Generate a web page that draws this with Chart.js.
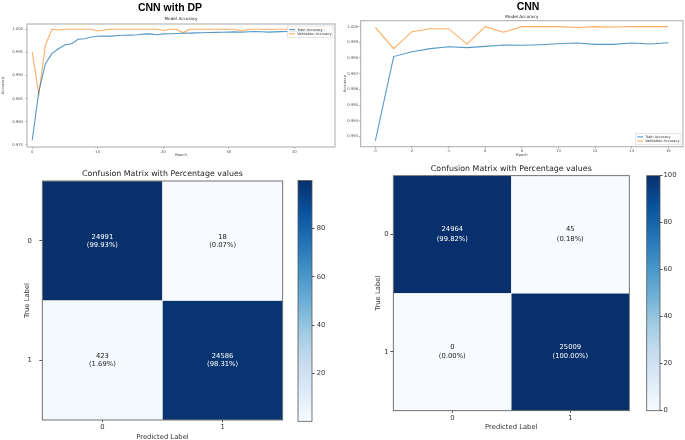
<!DOCTYPE html>
<html>
<head>
<meta charset="utf-8">
<script src="https://cdn.jsdelivr.net/npm/chart.js@4.4.1/dist/chart.umd.min.js"></script>
<style>
  html, body { margin: 0; padding: 0; background: #fff; overflow: hidden; }
  body { width: 685px; height: 440px; position: relative; }
  .box { position: absolute; }
  .head { position: absolute; z-index: 2; font: bold 10.5px "Liberation Sans", Arial, sans-serif;
          color: #000; text-align: center; line-height: 12px; white-space: nowrap; }
</style>
</head>
<body>
<div class="box" style="left:0;top:0;width:340px;height:160px"><canvas id="acc-dp"></canvas></div>
<div class="box" style="left:340px;top:0;width:345px;height:160px"><canvas id="acc-cnn"></canvas></div>
<div class="box" style="left:0;top:160px;width:340px;height:281px"><canvas id="cm-dp"></canvas></div>
<div class="box" style="left:340px;top:160px;width:345px;height:280px"><canvas id="cm-cnn"></canvas></div>
<div class="box" style="left:290px;top:170px;width:45px;height:260px"><canvas id="cb-dp"></canvas></div>
<div class="box" style="left:638px;top:165px;width:47px;height:255px"><canvas id="cb-cnn"></canvas></div>
<div class="head" style="left:0;top:1px;width:340px">CNN with DP</div>
<div class="head" style="left:428px;top:0;width:200px">CNN</div>

<script>
// accuracy curves
var DP_EPOCHS = [0,1,2,3,4,5,6,7,8,9,10,11,12,13,14,15,16,17,18,19,20,21,22,23,24,25,26,27,28,29,30,31,32,33,34,35,36,37,38,39,40,41,42,43,44,45];
var DP_TRAIN = [0.97597,0.98650,0.99255,0.99472,0.99580,0.99667,0.99688,0.99784,0.99797,0.99833,
                0.99848,0.99855,0.99852,0.99866,0.99870,0.99875,0.99882,0.99895,0.99900,0.99882,
                0.99900,0.99905,0.99910,0.99915,0.99918,0.99922,0.99926,0.99930,0.99933,0.99936,
                0.99940,0.99944,0.99935,0.99946,0.99950,0.99946,0.99940,0.99945,0.99950,0.99952,
                0.99955,0.99955,0.99957,0.99958,0.99960,0.99961];
var DP_VAL = [0.99509,0.98585,0.99654,1.00000,0.99985,1.00000,1.00000,1.00000,1.00000,1.00000,
              0.99965,0.99985,1.00000,1.00000,1.00000,1.00000,1.00000,1.00000,1.00000,1.00000,
              0.99975,1.00000,1.00000,0.99925,1.00000,1.00000,1.00000,1.00000,1.00000,1.00000,
              1.00000,1.00000,0.99960,1.00000,1.00000,1.00000,1.00000,1.00000,1.00000,1.00000,
              1.00000,0.99990,1.00000,1.00000,1.00000,1.00000];
var DP_XTICKS = [0, 10, 20, 30, 40];
var DP_YTICKS = [0.975, 0.980, 0.985, 0.990, 0.995, 1.000];

var CNN_EPOCHS = [0,1,2,3,4,5,6,7,8,9,10,11,12,13,14,15,16];
var CNN_TRAIN = [0.99272,0.99809,0.99840,0.99860,0.99872,0.99866,0.99874,0.99883,0.99881,
                 0.99885,0.99891,0.99896,0.99887,0.99887,0.99896,0.99889,0.99897];
var CNN_VAL = [0.99996,0.99860,0.99968,0.99987,0.99987,0.99889,1.00000,0.99964,1.00000,
               1.00000,1.00000,0.99995,1.00000,0.99998,1.00000,1.00000,1.00000];
var CNN_XTICKS = [0, 2, 4, 6, 8, 10, 12, 14, 16];
var CNN_YTICKS = [0.993, 0.994, 0.995, 0.996, 0.997, 0.998, 0.999, 1.000];

// confusion matrices (rows = true label, cols = predicted label)
var TRUE_LABELS = ['0', '1'];
var PRED_LABELS = ['0', '1'];
var DP_COUNTS = [[24991, 18], [423, 24586]];
var DP_PCT = [[99.93, 0.07], [1.69, 98.31]];
var CNN_COUNTS = [[24964, 45], [0, 25009]];
var CNN_PCT = [[99.82, 0.18], [0.00, 100.00]];
var DP_CB_TICKS = [20, 40, 60, 80];
var CNN_CB_TICKS = [0, 20, 40, 60, 80, 100];

var BLUES = ['#f7fbff','#deebf7','#c6dbef','#9ecae1','#6baed6','#4292c6','#2171b5','#08519c','#08306b'];
var TRAIN_COLOR = 'rgba(31,119,180,0.75)';
var VAL_COLOR = 'rgba(255,127,14,0.65)';
var FONT = '"DejaVu Sans", Verdana, sans-serif';

Chart.defaults.font.family = FONT;
Chart.defaults.animation = false;

function hexRgb(h) {
  return [parseInt(h.substr(1,2),16), parseInt(h.substr(3,2),16), parseInt(h.substr(5,2),16)];
}
function blues(t) {
  t = Math.max(0, Math.min(1, t));
  var s = t * (BLUES.length - 1);
  var i = Math.min(Math.floor(s), BLUES.length - 2);
  var f = s - i, a = hexRgb(BLUES[i]), b = hexRgb(BLUES[i+1]);
  return 'rgb(' + [0,1,2].map(function(k){ return Math.round(a[k] + (b[k]-a[k])*f); }).join(',') + ')';
}
function flat(m) { return m.reduce(function(a, r){ return a.concat(r); }, []); }
function fixTicks(vals) {
  return function(s) { s.ticks = vals.map(function(v){ return { value: v }; }); };
}

// box round the plot area (matplotlib spines)
var framePlugin = {
  id: 'frame',
  afterDatasetsDraw: function(chart, args, opts) {
    var a = chart.chartArea, ctx = chart.ctx;
    ctx.save();
    ctx.strokeStyle = opts.color;
    ctx.lineWidth = opts.width;
    ctx.strokeRect(a.left, a.top, a.right - a.left, a.bottom - a.top);
    ctx.restore();
  }
};

// matplotlib-like legend box inside the plot
var boxLegendPlugin = {
  id: 'boxLegend',
  afterDatasetsDraw: function(chart, args, opts) {
    if (!opts.corner) return;
    var ctx = chart.ctx, a = chart.chartArea, ds = chart.data.datasets;
    ctx.save();
    ctx.font = opts.size + 'px ' + FONT;
    var tw = Math.max.apply(null, ds.map(function(d){ return ctx.measureText(d.label).width; }));
    var pad = 1.5, ll = 6, gap = 2, rh = 4.2;
    var w = pad + ll + gap + tw + pad, h = pad * 2 + rh * ds.length;
    var x = a.right - opts.inset - w;
    var y = opts.corner === 'tr' ? a.top + opts.inset : a.bottom - opts.inset - h;
    ctx.fillStyle = 'rgba(255,255,255,0.85)';
    ctx.strokeStyle = '#d5d5d5';
    ctx.lineWidth = 0.6;
    ctx.fillRect(x, y, w, h);
    ctx.strokeRect(x, y, w, h);
    ctx.textBaseline = 'middle';
    ctx.textAlign = 'left';
    ds.forEach(function(d, i) {
      var cy = y + pad + rh * (i + 0.5);
      ctx.strokeStyle = d.borderColor;
      ctx.lineWidth = d.borderWidth;
      ctx.beginPath(); ctx.moveTo(x + pad, cy); ctx.lineTo(x + pad + ll, cy); ctx.stroke();
      ctx.fillStyle = '#333';
      ctx.fillText(d.label, x + pad + ll + gap, cy);
    });
    ctx.restore();
  }
};

// count + percentage written in each matrix cell
var cellTextPlugin = {
  id: 'cellText',
  afterDatasetsDraw: function(chart, args, opts) {
    var ctx = chart.ctx;
    ctx.save();
    ctx.font = opts.size + 'px ' + FONT;
    ctx.textAlign = 'center';
    ctx.textBaseline = 'middle';
    chart.data.datasets.forEach(function(d, r) {
      chart.getDatasetMeta(r).data.forEach(function(el, c) {
        var cx = el.x, cy = (el.y + el.base) / 2, p = opts.pct[r][c];
        ctx.fillStyle = p > opts.thresh ? '#fff' : '#222';
        ctx.fillText(String(opts.counts[r][c]), cx, cy - opts.gap / 2);
        ctx.fillText('(' + p.toFixed(2) + '%)', cx, cy + opts.gap / 2);
      });
    });
    ctx.restore();
  }
};

function accChart(id, epochs, train, val, xTicks, yTicks, o) {
  function pts(arr) { return epochs.map(function(e, i){ return { x: e, y: arr[i] }; }); }
  return new Chart(document.getElementById(id), {
    type: 'line',
    data: { datasets: [
      { label: 'Train Accuracy', data: pts(train), borderColor: TRAIN_COLOR, borderWidth: 1.1, pointRadius: 0, tension: 0 },
      { label: 'Validation Accuracy', data: pts(val), borderColor: VAL_COLOR, borderWidth: 1.1, pointRadius: 0, tension: 0 }
    ]},
    options: {
      responsive: true,
      maintainAspectRatio: false,
      layout: { padding: o.padding },
      plugins: {
        legend: { display: false },
        tooltip: { enabled: false },
        title: { display: true, text: 'Model Accuracy', fullSize: false, color: '#222',
                 font: { size: 4.2, weight: 'normal' }, padding: { top: 0, bottom: o.titleBottom } },
        frame: { color: '#aaa', width: 1 },
        boxLegend: { corner: o.legend, inset: 2, size: 3.5 }
      },
      scales: {
        x: {
          type: 'linear', min: o.xMin, max: o.xMax,
          afterBuildTicks: fixTicks(xTicks),
          afterFit: function(s) { s.height = o.xH; },
          ticks: { font: { size: 3.8 }, color: '#555', padding: 1, maxRotation: 0 },
          grid: { drawOnChartArea: false, tickLength: 1.5, color: '#999' },
          border: { display: false },
          title: { display: true, text: 'Epoch', font: { size: 3.8 }, color: '#444', padding: 0 }
        },
        y: {
          min: o.yMin, max: o.yMax,
          afterBuildTicks: fixTicks(yTicks),
          afterFit: function(s) { s.width = o.yW; },
          ticks: { font: { size: 3.8 }, color: '#555', padding: o.yPad,
                   callback: function(v) { return v.toFixed(3); } },
          grid: { drawOnChartArea: false, tickLength: 1.5, color: '#999' },
          border: { display: false },
          title: { display: true, text: 'Accuracy', font: { size: 3.8 }, color: '#444', padding: 0 }
        }
      }
    },
    plugins: [framePlugin, boxLegendPlugin]
  });
}

function cmChart(id, counts, pct, o) {
  var n = TRUE_LABELS.length;
  var all = flat(pct), cmin = Math.min.apply(null, all), cmax = Math.max.apply(null, all);
  var datasets = TRUE_LABELS.map(function(lab, r) {
    return {
      label: 'True ' + lab,
      data: PRED_LABELS.map(function() { return [n - 1 - r, n - r]; }),
      backgroundColor: PRED_LABELS.map(function(p, c) { return blues((pct[r][c] - cmin) / (cmax - cmin)); }),
      borderColor: 'rgba(225,225,225,0.9)',
      borderWidth: 0.6,
      borderSkipped: false,
      barPercentage: 1,
      categoryPercentage: 1,
      grouped: false
    };
  });
  return new Chart(document.getElementById(id), {
    type: 'bar',
    data: { labels: PRED_LABELS, datasets: datasets },
    options: {
      responsive: true,
      maintainAspectRatio: false,
      layout: { padding: o.padding },
      plugins: {
        legend: { display: false },
        tooltip: { enabled: false },
        title: { display: true, text: 'Confusion Matrix with Percentage values', fullSize: false,
                 color: '#222', font: { size: 7.9, weight: 'normal' },
                 padding: { top: o.titleTop, bottom: o.titleBottom } },
        frame: { color: '#555', width: 0.8 },
        cellText: { counts: counts, pct: pct, size: 6.8, gap: o.lineGap, thresh: (cmax + cmin) / 2 }
      },
      scales: {
        x: {
          afterFit: function(s) { s.height = o.xH; },
          ticks: { font: { size: 6.8 }, color: '#333', padding: o.xPad },
          grid: { drawOnChartArea: false, offset: false, tickLength: 2, color: '#555' },
          border: { display: false },
          title: { display: true, text: 'Predicted Label', font: { size: 6.8 }, color: '#333', padding: 0 }
        },
        y: {
          min: 0, max: n,
          afterBuildTicks: fixTicks(TRUE_LABELS.map(function(l, r) { return n - 0.5 - r; })),
          afterFit: function(s) { s.width = o.yW; },
          ticks: { font: { size: 6.8 }, color: '#333', padding: o.yPad,
                   callback: function(v) { return TRUE_LABELS[n - 1 - Math.floor(v)]; } },
          grid: { drawOnChartArea: false, tickLength: 3, color: '#555' },
          border: { display: false },
          title: { display: true, text: 'True Label', font: { size: 6.8 }, color: '#333', padding: 0 }
        }
      }
    },
    plugins: [framePlugin, cellTextPlugin]
  });
}

function cbChart(id, pct, ticks, o) {
  var all = flat(pct), lo = Math.min.apply(null, all), hi = Math.max.apply(null, all);
  return new Chart(document.getElementById(id), {
    type: 'bar',
    data: { labels: [''], datasets: [{
      data: [[lo, hi]],
      backgroundColor: function(ctx) {
        var ch = ctx.chart;
        if (!ch.chartArea) return BLUES[0];
        var y = ch.scales.y;
        var g = ch.ctx.createLinearGradient(0, y.getPixelForValue(lo), 0, y.getPixelForValue(hi));
        BLUES.forEach(function(c, i) { g.addColorStop(i / (BLUES.length - 1), c); });
        return g;
      },
      borderWidth: 0,
      barPercentage: 1,
      categoryPercentage: 1
    }]},
    options: {
      responsive: true,
      maintainAspectRatio: false,
      layout: { padding: o.padding },
      plugins: { legend: { display: false }, tooltip: { enabled: false }, frame: { color: '#555', width: 0.8 } },
      scales: {
        x: { display: false },
        y: {
          position: 'right', min: lo, max: hi,
          afterBuildTicks: fixTicks(ticks),
          afterFit: function(s) { s.width = o.yW; },
          ticks: { font: { size: 6.8 }, color: '#333', padding: o.yPad },
          grid: { drawOnChartArea: false, tickLength: 2.5, color: '#555' },
          border: { display: false }
        }
      }
    },
    plugins: [framePlugin]
  });
}

accChart('acc-dp', DP_EPOCHS, DP_TRAIN, DP_VAL, DP_XTICKS, DP_YTICKS, {
  padding: { left: 0.5, right: 5, top: 16.5, bottom: 2.5 }, titleBottom: 2.46,
  xMin: -0.8, xMax: 46.2, yMin: 0.9745, yMax: 1.00115, xH: 10.5, yW: 26.5, yPad: 2.5, legend: 'tr'
});
accChart('acc-cnn', CNN_EPOCHS, CNN_TRAIN, CNN_VAL, CNN_XTICKS, CNN_YTICKS, {
  padding: { left: 2.4, right: 2, top: 14.8, bottom: 2.5 }, titleBottom: 0.86,
  xMin: -0.8, xMax: 16.8, yMin: 0.99234, yMax: 1.00038, xH: 10.8, yW: 18.3, yPad: 1, legend: 'br'
});
cmChart('cm-dp', DP_COUNTS, DP_PCT, {
  padding: { left: 22.7, right: 57.3, top: 0, bottom: 0 }, titleTop: 9.25, titleBottom: 2.25,
  xH: 21, yW: 19.6, xPad: 1, yPad: 7.6, lineGap: 8
});
cmChart('cm-cnn', CNN_COUNTS, CNN_PCT, {
  padding: { left: 33.9, right: 55.7, top: 0, bottom: 8.9 }, titleTop: 4.25, titleBottom: 1.95,
  xH: 20.4, yW: 19.4, xPad: 1.2, yPad: 1.8, lineGap: 9.5
});
cbChart('cb-dp', DP_PCT, DP_CB_TICKS, { padding: { left: 8, right: 0, top: 10.5, bottom: 8.7 }, yW: 23, yPad: 2.2 });
cbChart('cb-cnn', CNN_PCT, CNN_CB_TICKS, { padding: { left: 8.7, right: 0, top: 10.7, bottom: 9.3 }, yW: 25, yPad: 1 });
</script>
</body>
</html>
